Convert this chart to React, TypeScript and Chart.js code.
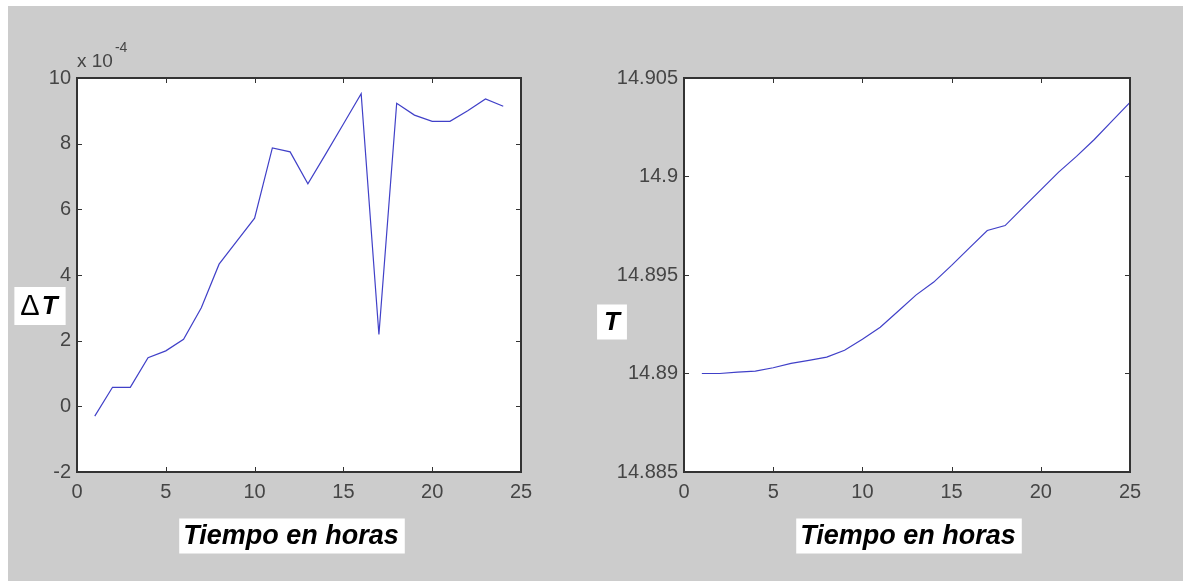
import React, { useEffect, useRef } from 'react';
import { Chart, registerables } from 'chart.js';

Chart.register(...registerables);

// ---------- data ----------
const leftHours = [1, 2, 3, 4, 5, 6, 7, 8, 9, 10, 11, 12, 13, 14, 15, 16, 17, 18, 19, 20, 21, 22, 23, 24];
// Delta T, in units of 1e-4
const deltaTx1e4 = [-0.3, 0.58, 0.58, 1.48, 1.69, 2.04, 3.0, 4.33, 5.03, 5.73, 7.87, 7.75, 6.78, 7.68, 8.6, 9.52, 2.19, 9.23, 8.87, 8.68, 8.68, 9.0, 9.36, 9.14];

const rightHours = [1, 2, 3, 4, 5, 6, 7, 8, 9, 10, 11, 12, 13, 14, 15, 16, 17, 18, 19, 20, 21, 22, 23, 24, 25];
const temperature = [14.89, 14.89, 14.89007, 14.89012, 14.89029, 14.89051, 14.89067, 14.89083, 14.89118, 14.89174, 14.89235, 14.89316, 14.89398, 14.89464, 14.89549, 14.89638, 14.89726, 14.89751, 14.89842, 14.89932, 14.90022, 14.90102, 14.90188, 14.90282, 14.90376];

const xTicks = [0, 5, 10, 15, 20, 25];
const leftYTicks = [-2, 0, 2, 4, 6, 8, 10];
const rightYTicks = [14.885, 14.89, 14.895, 14.9, 14.905];

const xTitle = 'Tiempo en horas';
const leftYTitleSymbol = 'Δ';
const leftYTitleVar = 'T';
const rightYTitle = 'T';
const exponentBase = 'x 10';
const exponentPower = '-4';

// ---------- styles ----------
const TICK_FONT = { family: 'Liberation Sans', size: 20 };
const TICK_COLOR = '#454545';
const FRAME_COLOR = '#333333';
const LINE_COLOR = '#4040c8';
const TITLE_FONT = 'italic bold 27px "Liberation Sans"';
const VAR_FONT = 'italic bold 26px "Liberation Sans"';
const SYMBOL_FONT = 'normal 29px "Liberation Sans"';

type Part = { text: string; font: string; gap?: number };

function boxedText(ctx: CanvasRenderingContext2D, parts: Part[], cx: number, cy: number, padL: number, padR: number, h: number) {
  const widths = parts.map((p) => {
    ctx.font = p.font;
    return ctx.measureText(p.text).width + (p.gap || 0);
  });
  const total = widths.reduce((a, b) => a + b, 0);
  const x0 = cx - total / 2;
  ctx.fillStyle = '#ffffff';
  ctx.fillRect(x0 - padL, cy - h / 2, total + padL + padR, h);
  ctx.fillStyle = '#000000';
  ctx.textAlign = 'left';
  ctx.textBaseline = 'middle';
  let x = x0;
  parts.forEach((p, i) => {
    ctx.font = p.font;
    ctx.fillText(p.text, x, cy + 1);
    x += widths[i];
  });
}

type PanelCfg = {
  left: number;
  width: number;
  yWidth: number;
  padRight: number;
  xs: number[];
  ys: number[];
  yTicks: number[];
  yMin: number;
  yMax: number;
  fmt: (v: number) => string;
  yLabel: Part[];
  yLabelDx: number;
  yLabelDy: number;
  yLabelPadL: number;
  yLabelPadR: number;
  yLabelH: number;
  titleDx: number;
  exponent: boolean;
};

function makeDecor(cfg: PanelCfg) {
  return {
    id: 'decor',
    beforeDraw(chart: any) {
      const { ctx, chartArea: a } = chart;
      ctx.save();
      ctx.fillStyle = '#ffffff';
      ctx.fillRect(a.left, a.top, a.right - a.left, a.bottom - a.top);
      ctx.restore();
    },
    afterDraw(chart: any) {
      const { ctx, chartArea: a, scales } = chart;
      ctx.save();
      // inward ticks on all four sides
      ctx.strokeStyle = FRAME_COLOR;
      ctx.lineWidth = 1;
      const tl = 5;
      ctx.beginPath();
      xTicks.forEach((v) => {
        const px = Math.round(scales.x.getPixelForValue(v)) + 0.5;
        ctx.moveTo(px, a.bottom);
        ctx.lineTo(px, a.bottom - tl);
        ctx.moveTo(px, a.top);
        ctx.lineTo(px, a.top + tl);
      });
      cfg.yTicks.forEach((v) => {
        const py = Math.round(scales.y.getPixelForValue(v)) + 0.5;
        ctx.moveTo(a.left, py);
        ctx.lineTo(a.left + tl, py);
        ctx.moveTo(a.right, py);
        ctx.lineTo(a.right - tl, py);
      });
      ctx.stroke();
      // frame
      ctx.lineWidth = 2;
      ctx.strokeRect(a.left, a.top, a.right - a.left, a.bottom - a.top);

      // x title
      const cxTitle = (a.left + a.right) / 2 + cfg.titleDx;
      boxedText(ctx, [{ text: xTitle, font: TITLE_FONT }], cxTitle, a.bottom + 64, 4, 6, 35);

      // y label
      boxedText(ctx, cfg.yLabel, a.left + cfg.yLabelDx, a.top + cfg.yLabelDy, cfg.yLabelPadL, cfg.yLabelPadR, cfg.yLabelH);

      // exponent
      if (cfg.exponent) {
        ctx.fillStyle = TICK_COLOR;
        ctx.textAlign = 'left';
        ctx.textBaseline = 'middle';
        ctx.font = '19px "Liberation Sans"';
        ctx.fillText(exponentBase, a.left, a.top - 16);
        const w = ctx.measureText(exponentBase).width;
        ctx.font = '14px "Liberation Sans"';
        ctx.fillText(exponentPower, a.left + w + 2, a.top - 30);
      }
      ctx.restore();
    },
  };
}

function Panel({ cfg }: { cfg: PanelCfg }) {
  const ref = useRef<HTMLCanvasElement>(null);
  useEffect(() => {
    const canvas = ref.current!;
    const data = cfg.xs.map((x, i) => ({ x, y: cfg.ys[i] }));
    const chart = new Chart(canvas, {
      type: 'line',
      data: {
        datasets: [
          {
            data,
            borderColor: LINE_COLOR,
            borderWidth: 1.2,
            pointRadius: 0,
            tension: 0,
            fill: false,
          },
        ],
      },
      options: {
        animation: false,
        responsive: false,
        maintainAspectRatio: false,
        layout: { padding: { top: 72, right: cfg.padRight, left: 0, bottom: 0 } },
        plugins: { legend: { display: false }, tooltip: { enabled: false } },
        scales: {
          x: {
            type: 'linear',
            min: 0,
            max: 25,
            afterBuildTicks: (s: any) => {
              s.ticks = xTicks.map((v) => ({ value: v }));
            },
            afterFit: (s: any) => {
              s.height = 109;
            },
            grid: { display: false, drawTicks: false },
            border: { display: false },
            ticks: {
              padding: 8,
              font: TICK_FONT,
              color: TICK_COLOR,
              maxRotation: 0,
              autoSkip: false,
              callback: (v: any) => String(v),
            },
          },
          y: {
            type: 'linear',
            min: cfg.yMin,
            max: cfg.yMax,
            afterBuildTicks: (s: any) => {
              s.ticks = cfg.yTicks.map((v) => ({ value: v }));
            },
            afterFit: (s: any) => {
              s.width = cfg.yWidth;
            },
            grid: { display: false, drawTicks: false },
            border: { display: false },
            ticks: {
              padding: 6,
              font: TICK_FONT,
              color: TICK_COLOR,
              autoSkip: false,
              callback: (v: any) => cfg.fmt(Number(v)),
            },
          },
        },
      },
      plugins: [makeDecor(cfg)],
    } as any);
    return () => chart.destroy();
  }, []);
  return (
    <canvas
      ref={ref}
      width={cfg.width}
      height={575}
      style={{ position: 'absolute', left: cfg.left, top: 0, width: cfg.width, height: 575 }}
    />
  );
}

const leftCfg: PanelCfg = {
  left: 0,
  width: 582,
  yWidth: 69,
  padRight: 69,
  xs: leftHours,
  ys: deltaTx1e4,
  yTicks: leftYTicks,
  yMin: -2,
  yMax: 10,
  fmt: (v) => String(v),
  yLabel: [
    { text: leftYTitleSymbol, font: SYMBOL_FONT, gap: 2 },
    { text: leftYTitleVar, font: VAR_FONT },
  ],
  yLabelDx: -38,
  yLabelDy: 228,
  yLabelPadL: 6,
  yLabelPadR: 8,
  yLabelH: 38,
  titleDx: -8,
  exponent: true,
};

const rightCfg: PanelCfg = {
  left: 582,
  width: 593,
  yWidth: 94,
  padRight: 53,
  xs: rightHours,
  ys: temperature,
  yTicks: rightYTicks,
  yMin: 14.885,
  yMax: 14.905,
  fmt: (v) => String(Number(v.toFixed(3))),
  yLabel: [{ text: rightYTitle, font: VAR_FONT }],
  yLabelDx: -72,
  yLabelDy: 244,
  yLabelPadL: 7,
  yLabelPadR: 7,
  yLabelH: 35,
  titleDx: 1,
  exponent: false,
};

export default function App() {
  return (
    <div
      style={{
        position: 'absolute',
        left: 8,
        top: 6,
        width: 1175,
        height: 575,
        background: '#cccccc',
        overflow: 'hidden',
      }}
    >
      <Panel cfg={leftCfg} />
      <Panel cfg={rightCfg} />
    </div>
  );
}
